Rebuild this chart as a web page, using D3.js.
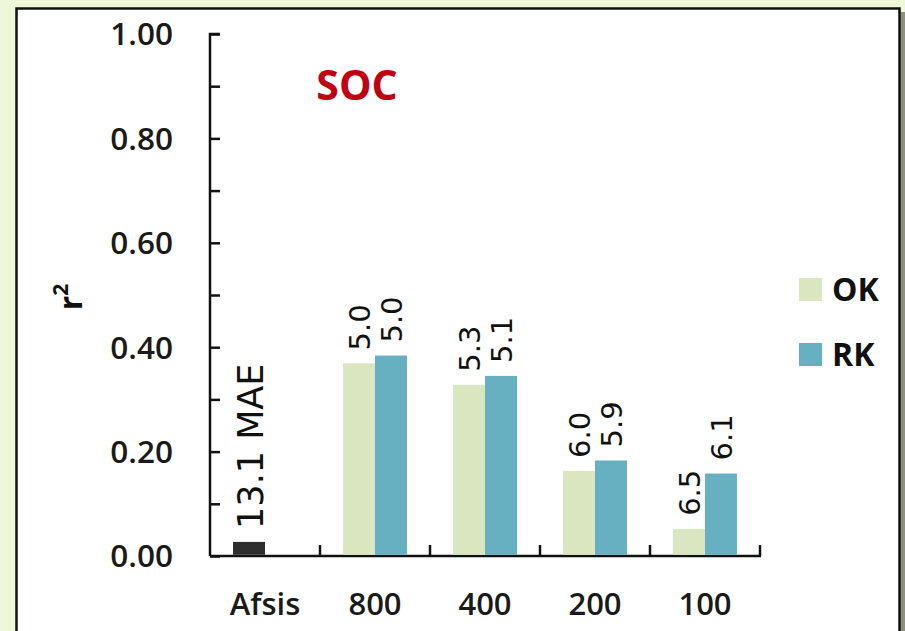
<!DOCTYPE html>
<html>
<head>
<meta charset="utf-8">
<script src="https://cdn.jsdelivr.net/npm/d3@7/dist/d3.min.js"></script>
<style>
  html, body { margin: 0; padding: 0; background: #eef7d7; }
  svg { display: block; }
</style>
</head>
<body>
<svg id="chart" width="905" height="631"></svg>
<script>
// ---- data ----
const categories = ["Afsis", "800", "400", "200", "100"];
const seriesNames = ["OK", "RK"];
const okValues = [0.027, 0.369, 0.328, 0.163, 0.052];
const rkValues = [null, 0.384, 0.345, 0.183, 0.158];
const okLabels = ["13.1 MAE", "5.0", "5.3", "6.0", "6.5"];
const rkLabels = [null, "5.0", "5.1", "5.9", "6.1"];
const yTicks = [0, 0.1, 0.2, 0.3, 0.4, 0.5, 0.6, 0.7, 0.8, 0.9, 1.0];
const yTickLabels = [0, 0.2, 0.4, 0.6, 0.8, 1.0];
const title = "SOC";

const colors = { OK: "#d9e6c0", RK: "#66b0c2", Afsis: "#2e2e2e" };
const font = "'Open Sans', 'DejaVu Sans', sans-serif";
const numFont = "'DejaVu Sans', sans-serif";

const svg = d3.select("#chart");

// frame
svg.append("rect").attr("x", 899).attr("y", 12).attr("width", 6).attr("height", 640).attr("fill", "#8e937a");
svg.append("rect").attr("x", 16.5).attr("y", 8.5).attr("width", 883).attr("height", 640)
  .attr("fill", "#ffffff").attr("stroke", "#111").attr("stroke-width", 2.5);

const x0 = 210, x1 = 760, yTop = 34, yBot = 556;
const x = d3.scaleBand().domain(categories).range([x0, x1]).padding(0);
const xs = d3.scaleBand().domain(seriesNames).range([0, x.bandwidth()]).paddingInner(0).paddingOuter(0.72);
const y = d3.scaleLinear().domain([0, 1]).range([yBot, yTop]);

// y axis
const yAxis = d3.axisRight(y).tickValues(yTicks).tickSize(10).tickFormat("");
const gy = svg.append("g").attr("transform", `translate(${x0},0)`).call(yAxis);
gy.select(".domain").attr("stroke", "#111").attr("stroke-width", 2.5).attr("d", `M10,${yTop}H0V${yBot}`);
gy.selectAll(".tick line").attr("stroke", "#111").attr("stroke-width", 2.5);

svg.append("g").selectAll("text").data(yTickLabels).join("text")
  .attr("x", 173).attr("y", d => y(d)).attr("dy", "0.36em")
  .attr("text-anchor", "end").attr("font-family", font).attr("font-weight", 600)
  .attr("font-size", 31.5).attr("fill", "#1a1a1a")
  .text(d => d.toFixed(2));

// x axis
svg.append("line").attr("x1", x0).attr("x2", x1 + 1).attr("y1", yBot).attr("y2", yBot)
  .attr("stroke", "#111").attr("stroke-width", 2.5);
const boundaries = categories.slice(1).map(c => x(c)).concat([x1]);
svg.append("g").selectAll("line").data(boundaries).join("line")
  .attr("x1", d => d).attr("x2", d => d).attr("y1", yBot).attr("y2", yBot - 11)
  .attr("stroke", "#111").attr("stroke-width", 2.5);

svg.append("g").selectAll("text").data(categories).join("text")
  .attr("x", d => x(d) + x.bandwidth() / 2).attr("y", 615)
  .attr("text-anchor", "middle").attr("font-family", font).attr("font-weight", 600)
  .attr("font-size", 31).attr("fill", "#1a1a1a").text(d => d);

// bars
const bars = [];
categories.forEach((c, i) => {
  if (okValues[i] != null) bars.push({ cat: c, s: "OK", v: okValues[i], label: okLabels[i], color: i === 0 ? colors.Afsis : colors.OK, big: i === 0 });
  if (rkValues[i] != null) bars.push({ cat: c, s: "RK", v: rkValues[i], label: rkLabels[i], color: colors.RK, big: false });
});

svg.append("g").selectAll("rect").data(bars).join("rect")
  .attr("x", d => x(d.cat) + xs(d.s)).attr("width", xs.bandwidth())
  .attr("y", d => y(d.v)).attr("height", d => y(0) - y(d.v) - 1.2)
  .attr("fill", d => d.color);

svg.append("g").selectAll("text").data(bars).join("text")
  .attr("transform", d => `translate(${x(d.cat) + xs(d.s) + xs.bandwidth() / 2 + 1},${y(d.v) - 13}) rotate(-90)`)
  .attr("dy", "0.36em").attr("text-anchor", "start")
  .attr("font-family", numFont).attr("font-size", d => d.big ? 35 : 29).attr("fill", "#111")
  .text(d => d.label);

// y label
svg.append("text").attr("transform", "translate(70,297) rotate(-90)")
  .attr("text-anchor", "middle").attr("dy", "0.36em")
  .attr("font-family", font).attr("font-weight", 700).attr("font-size", 32).attr("fill", "#111")
  .append("tspan").text("r")
  .append("tspan").attr("baseline-shift", "super").attr("font-size", 21).text("2");

// title
svg.append("text").attr("x", 357).attr("y", 100).attr("text-anchor", "middle")
  .attr("font-family", font).attr("font-weight", 700).attr("font-size", 41).attr("fill", "#c00010")
  .text(title);

// legend
const leg = svg.append("g").selectAll("g").data(seriesNames).join("g")
  .attr("transform", (d, i) => `translate(799,${278 + i * 65})`);
leg.append("rect").attr("width", 23).attr("height", 23).attr("fill", d => colors[d]);
leg.append("text").attr("x", 33).attr("y", 11.5).attr("dy", "0.36em")
  .attr("font-family", font).attr("font-weight", 700).attr("font-size", 32).attr("fill", "#111")
  .text(d => d);
</script>
</body>
</html>
